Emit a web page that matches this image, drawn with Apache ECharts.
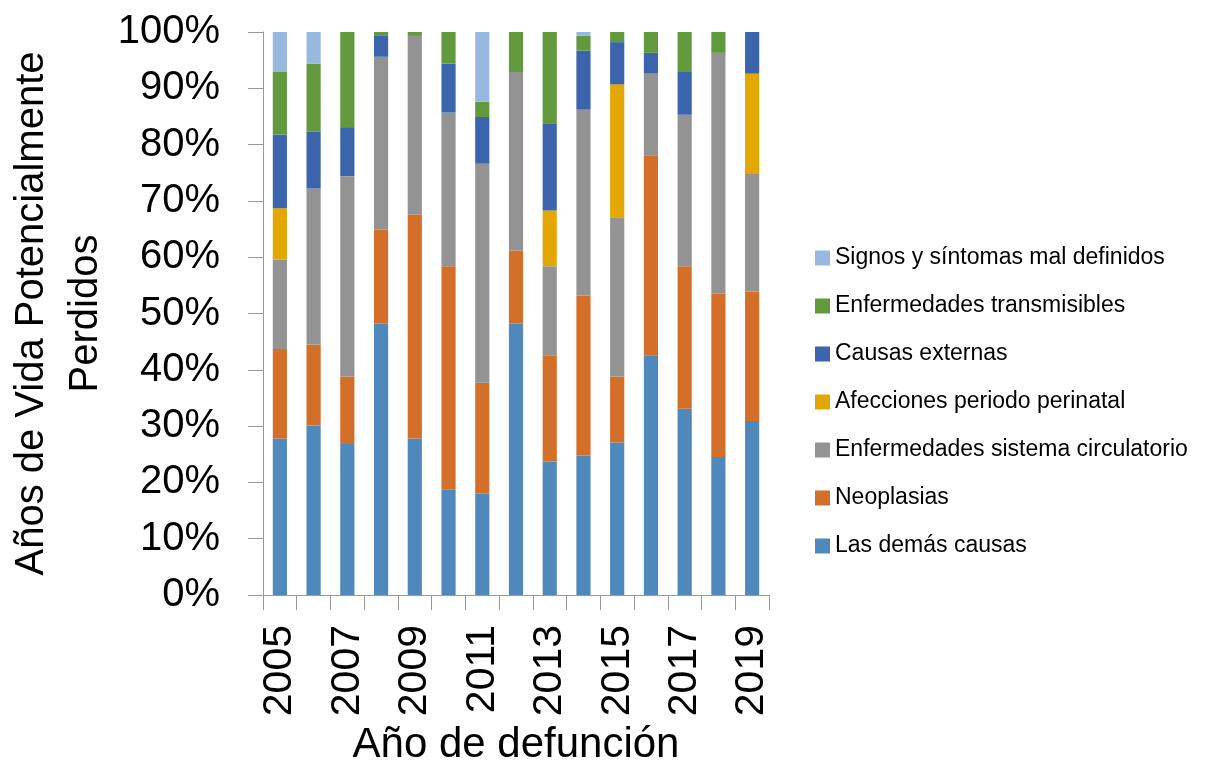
<!DOCTYPE html>
<html>
<head>
<meta charset="utf-8">
<script src="https://cdn.jsdelivr.net/npm/echarts@6/dist/echarts.min.js"></script>
<style>
html,body{margin:0;padding:0;background:#fff;}
#c{width:1209px;height:772px;}
</style>
</head>
<body>
<div id="c"></div>
<script>
const years = ['2005','2006','2007','2008','2009','2010','2011','2012','2013','2014','2015','2016','2017','2018','2019'];
const lasDemas      = [27.8, 30.1, 26.8, 48.2, 27.8, 18.7, 18.0, 48.2, 23.7, 24.8, 27.1, 42.6, 33.1, 24.5, 30.9];
const neoplasias    = [15.9, 14.4, 12.0, 16.7, 39.8, 39.7, 19.7, 13.0, 18.9, 28.4, 11.7, 35.5, 25.3, 29.0, 23.0];
const circulatorio  = [15.9, 27.7, 35.6, 30.7, 31.7, 27.3, 38.9, 31.7, 15.8, 33.0, 28.3, 14.5, 26.9, 42.8, 20.9];
const perinatal     = [ 9.1,  0.0,  0.0,  0.0,  0.0,  0.0,  0.0,  0.0,  9.9,  0.0, 23.6,  0.0,  0.0,  0.0, 17.8];
const externas      = [13.1, 10.1,  8.7,  3.7,  0.0,  8.7,  8.3,  0.0, 15.5, 10.5,  7.5,  3.7,  7.6,  0.0,  7.4];
const transmisibles = [11.1, 12.1, 16.9,  0.7,  0.7,  5.6,  2.7,  7.1, 16.2,  2.6,  1.8,  3.7,  7.1,  3.7,  0.0];
const signos        = [ 7.2,  5.6,  0.0,  0.0,  0.0,  0.0, 12.4,  0.0,  0.0,  0.7,  0.0,  0.0,  0.0,  0.0,  0.0];

const seriesDefs = [
  ['Las demás causas', lasDemas, '#4F88BB'],
  ['Neoplasias', neoplasias, '#D46F29'],
  ['Enfermedades sistema circulatorio', circulatorio, '#939393'],
  ['Afecciones periodo perinatal', perinatal, '#E2A700'],
  ['Causas externas', externas, '#3C64AD'],
  ['Enfermedades transmisibles', transmisibles, '#63993D'],
  ['Signos y síntomas mal definidos', signos, '#99B8E0']
];

const FONT = "'Liberation Sans Narrow', 'Arial Narrow', 'Liberation Sans', Arial, sans-serif";
const chart = echarts.init(document.getElementById('c'));
chart.setOption({
  animation: false,
  backgroundColor: '#fff',
  textStyle: { fontFamily: FONT, color: '#000' },
  grid: { left: 263, right: 440, top: 32, bottom: 177, containLabel: false, outerBoundsMode: 'none' },
  legend: {
    orient: 'vertical',
    left: 810,
    top: 239,
    itemWidth: 15,
    itemHeight: 15,
    itemGap: 20,
    icon: 'rect',
    data: seriesDefs.map(s => s[0]).reverse(),
    textStyle: { fontFamily: FONT, fontSize: 23, color: '#000', lineHeight: 28 }
  },
  xAxis: {
    type: 'category',
    data: years,
    name: 'Año de defunción',
    nameLocation: 'middle',
    nameGap: 128,
    nameTextStyle: { fontFamily: FONT, fontSize: 42, color: '#000' },
    axisLine: { lineStyle: { color: '#999', width: 1 } },
    axisTick: { show: true, interval: 0, length: 15, lineStyle: { color: '#999' } },
    axisLabel: { interval: 1, rotate: 90, margin: 30, fontFamily: FONT, fontSize: 41, color: '#000' },
    splitLine: { show: false }
  },
  yAxis: {
    type: 'value',
    min: 0,
    max: 100,
    interval: 10,
    name: 'Años de Vida Potencialmente\nPerdidos',
    nameLocation: 'middle',
    nameRotate: 90,
    nameGap: 150,
    nameTextStyle: { fontFamily: FONT, fontSize: 40, color: '#000', lineHeight: 54 },
    axisLine: { show: true, lineStyle: { color: '#999', width: 1 } },
    axisTick: { show: true, length: 15, lineStyle: { color: '#999' } },
    axisLabel: { formatter: '{value}%', margin: 43, fontFamily: FONT, fontSize: 40, color: '#000' },
    splitLine: { show: false }
  },
  series: seriesDefs.map(s => ({
    name: s[0],
    type: 'bar',
    stack: 'total',
    data: s[1],
    barWidth: '42%',
    itemStyle: { color: s[2] }
  }))
});
</script>
</body>
</html>
